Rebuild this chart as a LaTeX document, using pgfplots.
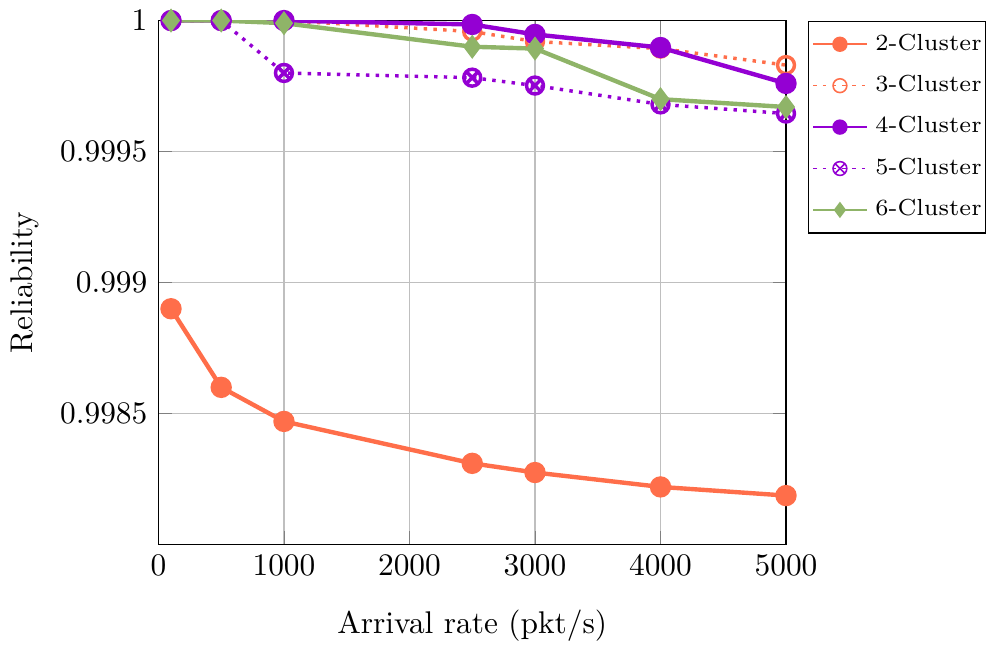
\documentclass[border=0pt]{standalone}
\usepackage{pgfplots}
\pgfplotsset{compat=1.18}
\definecolor{cl2}{RGB}{255,110,74}
\definecolor{cl4}{RGB}{148,0,211}
\definecolor{cl6}{RGB}{143,180,104}

\begin{document}
\begin{tikzpicture}
\begin{axis}[
    scale only axis,
    width=200pt,
    height=167pt,
    xmin=0, xmax=5000,
    ymin=0.998, ymax=1,
    xtick={0,1000,2000,3000,4000,5000},
    ytick={0.9985,0.999,0.9995,1},
    scaled x ticks=false,
    scaled y ticks=false,
    yticklabel style={/pgf/number format/fixed, /pgf/number format/precision=4},
    xticklabel style={/pgf/number format/1000 sep={}},
    grid=major,
    xlabel={Arrival rate (pkt/s)},
    xlabel style={yshift=-4pt},
    ylabel={Reliability},
    legend style={font=\fontsize{7.4}{9}\selectfont, at={(1.035,1)}, anchor=north west,
        row sep=2.5pt, inner xsep=1.2pt, nodes={inner xsep=0pt},
        /tikz/every odd column/.append style={column sep=2.5pt}},
    legend cell align=left,
    legend image post style={line width=0.5pt, mark size=2.2pt},
    mark size=2.7pt,
]
\addplot[cl2, line width=1.4pt, mark=*] coordinates {
    (100,0.99890) (500,0.99860) (1000,0.99847) (2500,0.99831)
    (3000,0.998275) (4000,0.99822) (5000,0.998187)
};
\addlegendentry{2-Cluster}
\addplot[cl2, line width=1.1pt, dotted, mark=o, mark options={solid}] coordinates {
    (100,1.0) (500,1.0) (1000,1.0) (2500,0.999958)
    (3000,0.99992) (4000,0.999893) (5000,0.99983)
};
\addlegendentry{3-Cluster}
\addplot[cl4, line width=1.4pt, mark=*] coordinates {
    (100,1.0) (500,1.0) (1000,1.0) (2500,0.999985)
    (3000,0.999947) (4000,0.999897) (5000,0.99976)
};
\addlegendentry{4-Cluster}
\addplot[cl4, line width=1.1pt, dotted, mark=otimes, mark options={solid}] coordinates {
    (100,1.0) (500,1.0) (1000,0.9998) (2500,0.999782)
    (3000,0.999752) (4000,0.99968) (5000,0.999645)
};
\addlegendentry{5-Cluster}
\addplot[cl6, line width=1.4pt, mark=diamond*] coordinates {
    (100,1.0) (500,1.0) (1000,0.99999) (2500,0.9999)
    (3000,0.999893) (4000,0.9997) (5000,0.99967)
};
\addlegendentry{6-Cluster}
\end{axis}
\end{tikzpicture}
\end{document}
